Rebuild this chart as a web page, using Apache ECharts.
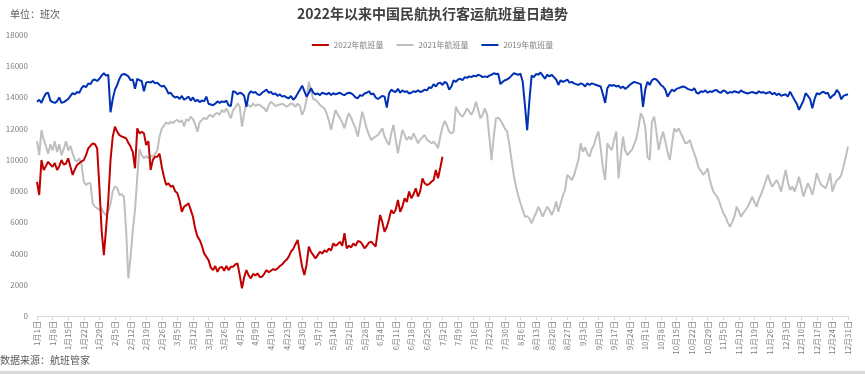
<!DOCTYPE html>
<html><head><meta charset="utf-8">
<script src="https://cdn.jsdelivr.net/npm/echarts@6/dist/echarts.min.js"></script>
<style>html,body{margin:0;padding:0;background:#fff}#c{width:865px;height:374px}</style>
</head><body><div id="c"></div>
<script>
const monthDays = [31,28,31,30,31,30,31,31,30,31,30,31];
const categories = [];
monthDays.forEach((n, m) => { for (let d = 1; d <= n; d++) categories.push((m + 1) + '月' + d + '日'); });

const yTicks = [0,2000,4000,6000,8000,10000,12000,14000,16000,18000];
const seriesNames = ['2022年航班量','2021年航班量','2019年航班量'];

const values2022 = [
8600,7750,9990,9350,9600,9880,9700,9560,9800,9350,
9600,9990,9700,9770,10100,9560,9040,9400,9670,9800,
9900,9990,10300,10740,10900,11060,11000,10740,8280,5500,
3900,5600,7430,10000,11500,12130,11800,11590,11500,11450,
11380,11100,10850,10500,9460,12020,11700,11800,11700,10950,
11200,9350,10000,10200,10200,10400,9560,8900,8390,8500,
8280,8350,8000,7860,7400,6680,7000,7100,7220,6800,
6360,5600,5100,4870,4500,4010,3800,3580,3100,2940,
3200,2830,3100,3150,2900,3200,2940,3150,3150,3300,
3370,2600,1770,2500,2940,2600,2410,2700,2600,2730,
2500,2520,2700,2940,2800,2900,3000,2950,3050,3200,
3300,3470,3600,3800,4120,4300,4600,4870,4000,3150,
2620,3300,4440,4100,3900,3690,3900,4120,4000,4200,
4100,4330,4200,4650,4500,4600,4760,4500,5300,4330,
4500,4400,4650,4500,4800,4760,4600,4330,4500,4700,
4760,4600,4440,5500,6470,6000,5400,5700,6200,6790,
6570,6800,7430,6680,7000,7540,7300,7970,7540,7800,
8180,7650,8000,8820,8500,8390,8450,8600,8700,9350,
8820,9500,10200];

const values2021 = [
11200,10300,11900,11300,10900,10400,11000,10600,11200,10500,
11000,10300,10700,11200,10600,10900,10400,10000,9900,10100,
9700,8600,8400,8500,8500,7200,7000,6900,6800,6900,
6600,6450,6700,7200,8000,8300,8200,7750,7800,7650,
5500,2400,3800,5500,6800,8900,10700,10300,10100,10250,
10100,10250,10200,10400,10600,11500,12000,12200,12400,12300,
12450,12350,12500,12560,12400,12550,12150,12600,12500,12770,
12600,12300,11800,12400,12560,12700,12600,12800,12880,12750,
12950,13000,12900,13200,13050,13300,13000,12660,13200,13350,
13620,13400,12130,13000,13620,13500,13400,13620,13450,13550,
13520,13400,13300,13090,13500,13730,13600,13450,13500,13550,
13600,13520,13400,13500,13620,13550,13400,13600,13450,12880,
13200,13900,15010,14400,13900,13840,13700,13520,13400,13300,
12990,12500,11920,12600,13200,12900,12660,12400,12020,12600,
12990,12700,12340,12000,11490,12300,13090,12560,12000,11600,
11270,11400,11500,11590,11800,12020,11500,11200,10950,11700,
12240,11300,10420,11200,11920,11600,11270,11500,11300,11700,
11400,11060,11300,11450,11590,11300,11200,11060,11170,11000,
10740,11500,12100,12500,12200,11810,11700,11810,13410,13100,
12900,12770,13000,13300,13100,12880,13200,13730,13200,12660,
12900,13300,12900,11500,9990,11500,12660,12700,12560,12300,
12000,11810,11000,9990,9000,8280,7700,7220,6800,6360,
6400,6250,5930,6300,6600,7000,6700,6360,6700,7000,
6800,6470,6800,7330,6680,7200,7700,8070,9040,8900,
8710,9000,9500,9990,11060,10520,10800,10400,10200,10700,
10950,11500,11810,10740,9500,8710,11060,10800,10630,11300,
11810,8820,10200,11490,10600,10310,10500,10630,11000,11380,
12100,12990,12700,12130,10200,9990,12450,12770,11800,10630,
11300,11810,11200,10500,9990,11000,12020,11800,12020,11700,
11400,11060,11100,11270,10800,10420,10000,9460,9300,9040,
9200,9460,8710,8200,7860,7700,7430,7000,6600,6360,
6000,5720,6000,6360,7000,6700,6360,6600,6790,7000,
7300,7650,7300,7000,7500,7800,8180,8600,9040,8600,
8280,8500,8710,8400,7970,8700,9360,8600,8070,8300,
7970,8400,8920,8300,7650,8100,8500,8200,7760,8400,
9150,8700,8390,8300,8180,8600,9150,7970,8400,8710,
8800,9040,9600,10200,10850];

const values2019 = [
13730,13850,13650,14000,14250,14300,13800,13700,13650,13750,
14000,13650,13700,13800,13900,14100,14270,14200,14350,14300,
14600,14750,14650,14900,14850,15100,15150,15050,15200,15400,
15550,15400,15450,13050,13900,14500,14800,15200,15450,15500,
15450,15350,15100,15150,14550,15200,15100,15050,14400,14950,
15000,14950,15050,14900,14950,14800,14700,14750,14550,14250,
14300,14100,14000,14050,13900,14100,13850,13950,14050,13800,
14000,13750,13850,13700,13800,13750,14050,13600,13550,13500,
13600,13750,13650,13750,13700,13800,13500,13450,14400,14350,
14200,14300,14250,14100,13400,14200,14400,14300,14350,14200,
14150,14300,14400,14500,14300,14350,14200,14250,14100,14200,
14050,14100,14000,13950,14100,13850,14000,14250,14500,14750,
14400,14050,14300,14600,14300,14200,14250,14150,14300,14250,
14200,14300,14150,14270,14200,14250,14300,14200,14150,14250,
14300,14270,14150,14000,13950,14150,14100,14250,14300,14400,
14200,14250,14000,13900,14000,14100,14050,13350,14250,14500,
14400,14350,14550,14300,14450,14350,14400,14250,14300,14400,
14350,14450,14350,14400,14500,14450,14650,14600,14850,14700,
14900,14950,14800,15000,14900,14500,14700,15100,15000,15150,
15200,15100,15300,15250,15350,15300,15400,15350,15450,15400,
15300,15350,15300,15400,15450,15550,15500,15520,14850,15000,
15100,15150,15250,15400,15550,15500,15450,15520,15000,13500,
11900,13800,15400,15300,15500,15450,15600,15400,15200,15450,
15350,15450,15300,15150,14800,15100,15000,15050,15150,14950,
15000,14900,14850,14800,14900,14850,14700,14900,14800,14900,
14850,14800,14750,14700,14200,13650,14600,14800,14750,14800,
14700,14750,14600,14700,14550,14650,14800,14900,15000,14950,
14900,14850,13400,14500,15000,14800,15100,15200,15150,15000,
14800,14700,14500,14050,14300,14500,14400,14550,14600,14650,
14700,14650,14550,14500,14450,14600,14300,14250,14400,14350,
14450,14300,14400,14350,14450,14480,14350,14300,14450,14400,
14250,14350,14310,14400,14350,14300,14450,14350,14300,14250,
14310,14350,14300,14250,14400,14300,14350,14250,14300,14350,
14200,14300,14150,14250,14100,14160,14200,14050,14370,14100,
13840,13600,13200,13500,13800,14270,14100,13900,13300,13900,
14270,14200,14300,14370,14250,14300,13940,14100,14200,14480,
14300,13880,14100,14160,14200];

const FONT = '"Noto Sans CJK SC", "Microsoft YaHei", sans-serif';
const chart = echarts.init(document.getElementById('c'));
chart.setOption({
  animation: false,
  backgroundColor: '#fff',
  textStyle: { fontFamily: FONT },
  title: {
    text: '2022年以来中国民航执行客运航班量日趋势',
    left: 'center', top: 2,
    textStyle: { fontSize: 14, fontWeight: 'bold', color: '#404040', fontFamily: FONT }
  },
  legend: {
    data: seriesNames, top: 36, left: 'center', itemWidth: 17, itemHeight: 2, itemGap: 13,
    icon: 'rect',
    textStyle: { fontSize: 8, color: '#7f7f7f', fontFamily: FONT }
  },
  graphic: [
    { type: 'text', left: 10, top: 9, style: { text: '单位：班次', fontSize: 10, fill: '#595959', fontFamily: FONT } },
    { type: 'text', left: 0, top: 355, style: { text: '数据来源：航班管家', fontSize: 10, fill: '#595959', fontFamily: FONT } },
    { type: 'rect', shape: { x: 0, y: 371, width: 865, height: 3 }, style: { fill: '#d9d9d9' } }
  ],
  grid: { left: 37, right: 17, top: 35, bottom: 58 },
  xAxis: {
    type: 'category', data: categories, boundaryGap: false,
    axisLine: { lineStyle: { color: '#d9d9d9' } },
    axisTick: { interval: 6, lineStyle: { color: '#d9d9d9' }, length: 4 },
    axisLabel: { interval: 6, rotate: 90, fontSize: 8, color: '#7f7f7f', margin: 5, fontFamily: FONT }
  },
  yAxis: {
    type: 'value', min: yTicks[0], max: yTicks[yTicks.length - 1], interval: 2000,
    splitLine: { show: false }, axisLine: { show: false }, axisTick: { show: false },
    axisLabel: { fontSize: 8, color: '#7f7f7f', margin: 9, fontFamily: FONT, formatter: v => String(v) }
  },
  series: [
    { name: seriesNames[0], type: 'line', data: values2022, showSymbol: false, z: 3,
      lineStyle: { width: 2, color: '#C00000' }, itemStyle: { color: '#C00000' } },
    { name: seriesNames[1], type: 'line', data: values2021, showSymbol: false, z: 2,
      lineStyle: { width: 2, color: '#BFBFBF' }, itemStyle: { color: '#BFBFBF' } },
    { name: seriesNames[2], type: 'line', data: values2019, showSymbol: false, z: 4,
      lineStyle: { width: 2, color: '#0030B4' }, itemStyle: { color: '#0030B4' } }
  ]
});
</script></body></html>
